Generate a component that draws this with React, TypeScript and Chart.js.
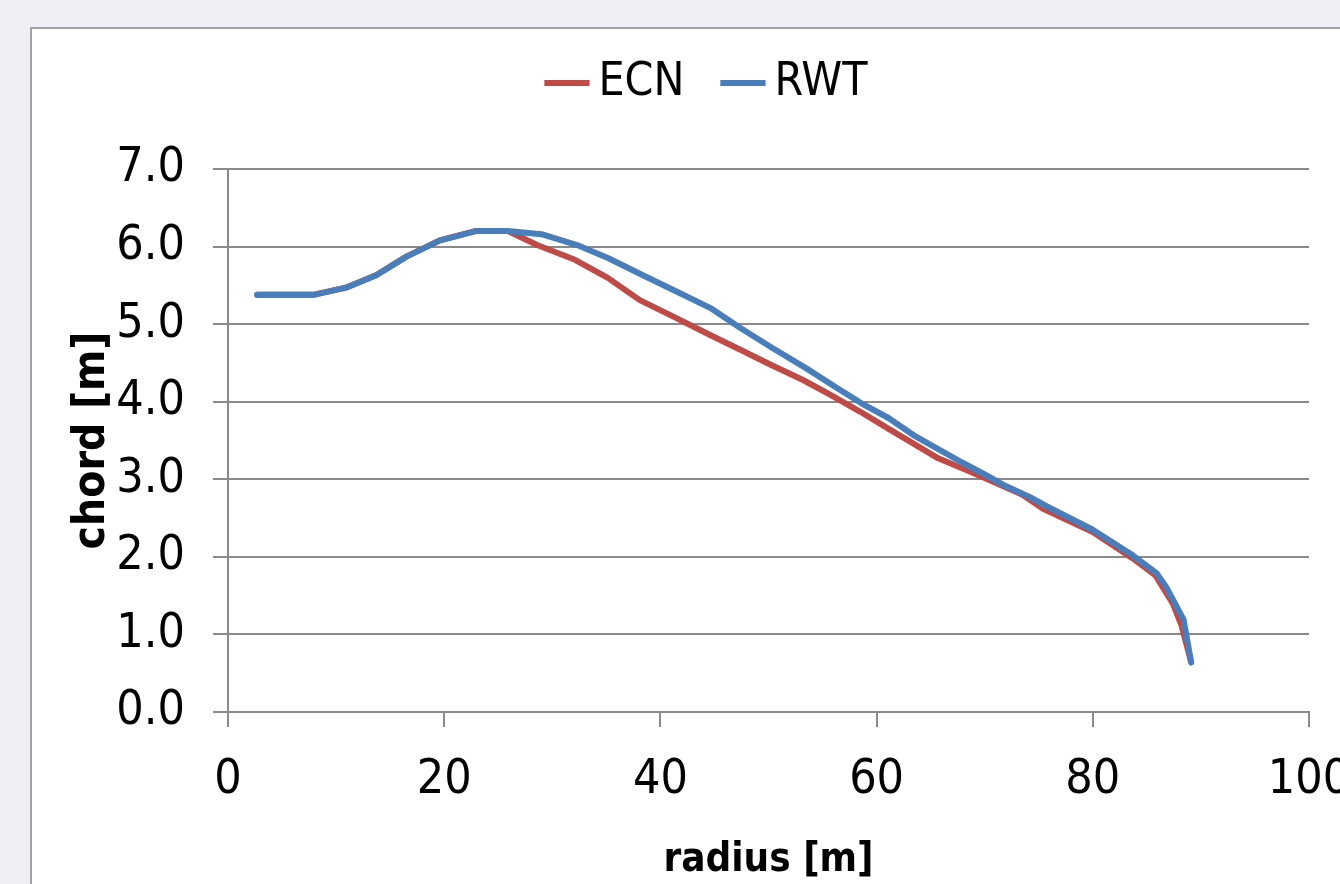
import React, { useEffect, useRef } from 'react';
import { Chart, registerables } from 'chart.js';

Chart.register(...registerables);

const ecnRadius = [2.7, 8.0, 10.9, 13.7, 16.5, 19.6, 22.9, 25.9, 28.6, 32.1, 35.1, 38.1, 41.3, 44.6, 47.4, 50.3, 53.2, 55.7, 58.5, 61.0, 63.3, 65.7, 68.3, 69.8, 73.5, 75.4, 80.0, 83.7, 85.8, 86.6, 87.4, 88.2, 89.1];
const ecnChord = [5.38, 5.38, 5.47, 5.63, 5.87, 6.08, 6.2, 6.2, 6.02, 5.83, 5.6, 5.31, 5.09, 4.86, 4.67, 4.47, 4.28, 4.09, 3.87, 3.66, 3.47, 3.27, 3.12, 3.03, 2.8, 2.62, 2.32, 1.98, 1.76, 1.58, 1.4, 1.12, 0.64];

const rwtRadius = [2.7, 8.0, 10.9, 13.7, 16.5, 19.6, 22.9, 25.9, 29.0, 32.3, 35.2, 38.1, 41.2, 44.6, 47.4, 50.4, 53.5, 56.3, 58.6, 61.1, 63.4, 65.7, 68.0, 69.8, 71.7, 74.2, 75.5, 80.0, 83.7, 85.9, 86.8, 88.4, 89.1];
const rwtChord = [5.38, 5.38, 5.47, 5.63, 5.87, 6.08, 6.2, 6.2, 6.16, 6.02, 5.85, 5.65, 5.44, 5.21, 4.95, 4.69, 4.43, 4.18, 3.98, 3.79, 3.57, 3.39, 3.21, 3.08, 2.93, 2.77, 2.67, 2.35, 2.02, 1.79, 1.61, 1.19, 0.64];

const seriesNames = ['ECN', 'RWT'];
const seriesColors = ['#BE4B48', '#4A7EBB'];
const xTitle = 'radius [m]';
const yTitle = 'chord [m]';

const FONT = "'Liberation Sans Narrow', 'DejaVu Sans Condensed', 'Liberation Sans', sans-serif";
const GRID = '#8a8a8a';

const W = 1362;
const H = 885;

export default function App() {
  const ref = useRef<HTMLCanvasElement>(null);

  useEffect(() => {
    const toPts = (xs: number[], ys: number[]) => xs.map((x, i) => ({ x, y: ys[i] }));
    const chart = new Chart(ref.current as HTMLCanvasElement, {
      type: 'line',
      data: {
        datasets: [
          {
            label: seriesNames[0],
            data: toPts(ecnRadius, ecnChord),
            borderColor: seriesColors[0],
            backgroundColor: seriesColors[0],
            borderWidth: 6,
            pointRadius: 0,
            tension: 0,
            borderCapStyle: 'round',
            borderJoinStyle: 'round',
            order: 2,
          },
          {
            label: seriesNames[1],
            data: toPts(rwtRadius, rwtChord),
            borderColor: seriesColors[1],
            backgroundColor: seriesColors[1],
            borderWidth: 6,
            pointRadius: 0,
            tension: 0,
            borderCapStyle: 'round',
            borderJoinStyle: 'round',
            order: 1,
          },
        ],
      },
      options: {
        responsive: false,
        animation: false,
        devicePixelRatio: 1,
        layout: { padding: { top: 10, left: 0, right: 0, bottom: 0 } },
        plugins: {
          legend: {
            display: true,
            position: 'top',
            labels: {
              usePointStyle: true,
              pointStyle: 'line',
              boxWidth: 17,
              boxHeight: 32,
              padding: 50,
              color: '#000',
              font: { family: FONT, size: 46 },
              sort: (a: any, b: any) => a.datasetIndex - b.datasetIndex,
            },
          },
          title: {
            display: true,
            text: '',
            position: 'top',
            weight: 500,
            padding: { top: 24, bottom: 28 },
            font: { size: 1, lineHeight: 1 },
          } as any,
          tooltip: { enabled: false },
        },
        scales: {
          x: {
            type: 'linear',
            position: 'bottom',
            min: 0,
            max: 100,
            ticks: {
              stepSize: 20,
              color: '#000',
              padding: 25,
              font: { family: FONT, size: 48 },
              maxRotation: 0,
            },
            grid: {
              drawOnChartArea: false,
              drawTicks: true,
              tickLength: 15,
              color: GRID,
              lineWidth: 2,
            },
            border: { display: true, color: GRID, width: 2 },
            title: {
              display: true,
              text: xTitle,
              color: '#000',
              font: { family: FONT, size: 40, weight: 'bold' },
              padding: { top: 23, bottom: 0 },
            },
            afterFit: (s: any) => {
              s.height = 173;
            },
          },
          y: {
            type: 'linear',
            position: 'left',
            min: 0,
            max: 7,
            ticks: {
              stepSize: 1,
              color: '#000',
              padding: 28,
              font: { family: FONT, size: 48 },
              callback: (v: any) => Number(v).toFixed(1),
            },
            grid: {
              drawOnChartArea: true,
              drawTicks: true,
              tickLength: 15,
              color: GRID,
              lineWidth: 2,
            },
            border: { display: true, color: GRID, width: 2 },
            title: {
              display: true,
              text: yTitle,
              color: '#000',
              font: { family: FONT, size: 44, weight: 'bold' },
              padding: { top: 34, bottom: 0 },
            },
            afterFit: (s: any) => {
              s.width = 196;
            },
          },
          yRight: {
            type: 'linear',
            position: 'right',
            display: true,
            grid: { display: false, drawTicks: false },
            ticks: { display: false },
            border: { display: false },
            afterFit: (s: any) => {
              s.width = 85;
            },
          },
        },
      } as any,
    });
    return () => chart.destroy();
  }, []);

  return (
    <div style={{ position: 'fixed', inset: 0, overflow: 'hidden', background: '#eff0f5' }}>
      <div
        style={{
          position: 'absolute',
          left: 30,
          top: 27,
          width: 1400,
          height: 1000,
          background: '#ffffff',
          borderLeft: '2px solid #a3a3a3',
          borderTop: '2px solid #a3a3a3',
        }}
      />
      <div style={{ position: 'absolute', left: 32, top: 0, width: W, height: H }}>
        <canvas ref={ref} width={W} height={H} style={{ display: 'block', width: W, height: H }} />
      </div>
    </div>
  );
}
